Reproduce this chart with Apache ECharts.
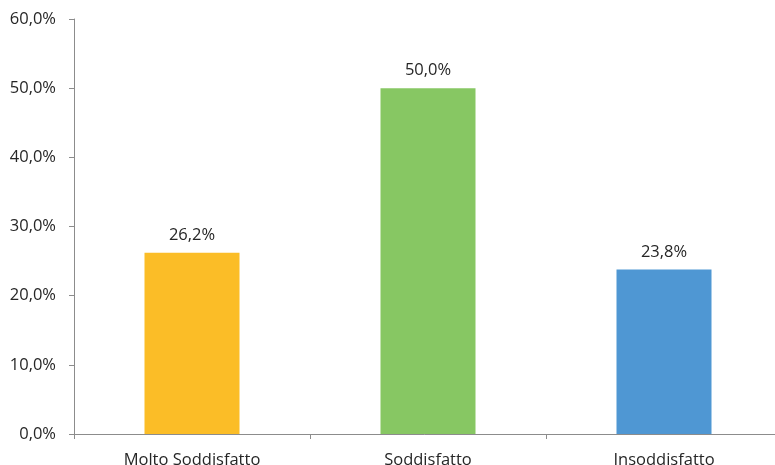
<!DOCTYPE html>
<html><head><meta charset="utf-8">
<script src="https://cdn.jsdelivr.net/npm/echarts@6/dist/echarts.min.js"></script>
<style>html,body{margin:0;padding:0;background:#fff}#c{width:775px;height:465px}</style>
</head><body><div id="c"></div>
<script>
const categories = ['Molto Soddisfatto', 'Soddisfatto', 'Insoddisfatto'];
const values = [26.2, 50.0, 23.8];
const colors = ['#FBBD27', '#87C763', '#4F97D3'];
const yTicks = [0, 10, 20, 30, 40, 50, 60];

const fmt = v => v.toFixed(1).replace('.', ',') + '%';
const chart = echarts.init(document.getElementById('c'), null, {renderer: 'canvas'});
chart.setOption({
  animation: false,
  grid: {left: 74, top: 19, right: -7, bottom: 31, outerBoundsMode: 'none', containLabel: false},
  xAxis: {
    type: 'category', data: categories,
    axisLine: {lineStyle: {color: '#8C8C8C', width: 1}},
    axisTick: {show: true, length: 5, lineStyle: {color: '#8C8C8C'}},
    axisLabel: {color: '#262626', fontSize: 16.5, fontFamily: 'Open Sans', margin: 18}
  },
  yAxis: {
    type: 'value', min: yTicks[0], max: yTicks[yTicks.length - 1], interval: 10,
    axisLine: {show: true, lineStyle: {color: '#8C8C8C', width: 1}},
    axisTick: {show: true, length: 5, lineStyle: {color: '#8C8C8C'}},
    splitLine: {show: false},
    axisLabel: {color: '#262626', fontSize: 16.5, fontFamily: 'Open Sans', margin: 18, formatter: v => fmt(v)}
  },
  series: [{
    type: 'bar', barWidth: 95,
    data: values.map((v, i) => ({value: v, itemStyle: {color: colors[i]}})),
    label: {show: true, position: 'top', distance: 9, color: '#262626', fontSize: 16.5, fontFamily: 'Open Sans', formatter: p => fmt(p.value)}
  }]
});
</script></body></html>
